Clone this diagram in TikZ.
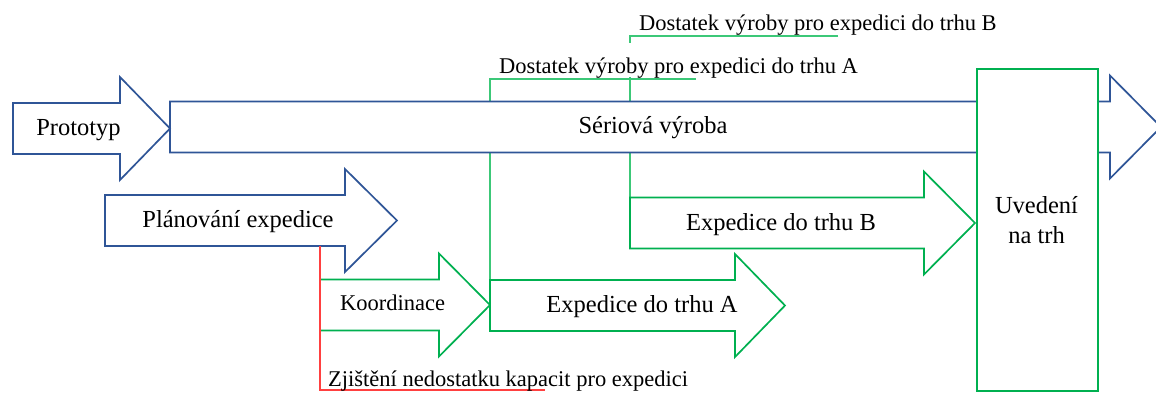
\documentclass[tikz,border=0pt]{standalone}
\usepackage{fontspec}
\setmainfont{Liberation Serif}
\definecolor{arrblue}{HTML}{2F5597}
\definecolor{arrgreen}{HTML}{00B050}
\definecolor{linkgreen}{HTML}{3CC878}
\definecolor{alertred}{HTML}{FF4040}

\pgfdeclarelayer{links}
\pgfsetlayers{links,main}

% Block arrow: style, tail x, head base x, tip x, centre y, name
\newcommand\blockarrow[6]{%
  \filldraw[#1] (#2,#5-25.5) -- (#3,#5-25.5) -- (#3,#5-51.5) -- (#4,#5)
    -- (#3,#5+51.5) -- (#3,#5+25.5) -- (#2,#5+25.5) -- cycle;
  \coordinate (#6-nw) at (#2,#5-25.5);
  \coordinate (#6-sw) at (#2,#5+25.5);
}

\tikzset{
  bluearrow/.style={draw=arrblue, fill=white, line width=1.7pt, line join=miter},
  greenarrow/.style={draw=arrgreen, fill=white, line width=1.7pt, line join=miter},
  link/.style={draw=linkgreen, line width=1.7pt},
  alert/.style={draw=alertred, line width=1.7pt},
  biglabel/.style={font=\fontsize{24.5}{30}\selectfont, inner sep=0pt, anchor=base},
  smalllabel/.style={font=\fontsize{22.5}{26}\selectfont, inner sep=0pt, anchor=base west},
}

\begin{document}
\begin{tikzpicture}[x=1pt, y=-1pt]
\useasboundingbox (0,0) rectangle (1156,392);
\clip (0,0) rectangle (1156,392);

% production line
\blockarrow{bluearrow}{170}{1110}{1161}{127}{ser}
\blockarrow{bluearrow}{13}{120}{170}{128.5}{proto}
\node[biglabel] (protolbl) at (78.5,135) {Prototyp};
\node[biglabel] (serlbl) at (653,133) {Sériová výroba};

% shipping planning
\blockarrow{bluearrow}{105}{345}{397}{220.5}{plan}
\node[biglabel] (planlbl) at (238,227) {Plánování expedice};

\blockarrow{greenarrow}{320}{439}{490}{305}{koord}
\node[font=\fontsize{22.5}{26}\selectfont, inner sep=0pt, anchor=base] (koordlbl) at (392.5,310) {Koordinace};

\blockarrow{greenarrow}{490}{735}{785}{305.5}{expA}
\node[biglabel] (expAlbl) at (642,312) {Expedice do trhu A};

\blockarrow{greenarrow}{630}{924}{975}{223}{expB}
\node[biglabel] (expBlbl) at (781,230) {Expedice do trhu B};

% market launch
\node[draw=arrgreen, fill=white, line width=1.7pt, minimum width=121pt,
      minimum height=322pt, anchor=north west, inner sep=0pt] (market) at (976,68) {};
\node[font=\fontsize{24.5}{30}\selectfont, align=center, inner sep=0pt] (marketlbl)
      at (1036.5,220.5) {Uvedení\\na trh};

% capacity shortage
\coordinate (rTop) at (320,246);
\coordinate (rEnd) at (545,390);
\draw[alert] (rTop) |- (rEnd);
\node[smalllabel] (shortlbl) at (328,386) {Zjištění nedostatku kapacit pro expedici};

% production sufficiency callouts
\coordinate (bEnd) at (838,36);
\coordinate (aEnd) at (696,79);
\begin{pgfonlayer}{links}
  \draw[link] (bEnd) -| (expB-nw);
  \node[smalllabel, fill=white, text height=30pt, text depth=4pt] (lblA) at (499,73)
        {Dostatek výroby pro expedici do trhu A};
  \draw[link] (aEnd) -| (expA-nw);
\end{pgfonlayer}
\node[smalllabel] (lblB) at (639,30) {Dostatek výroby pro expedici do trhu B};
\end{tikzpicture}
\end{document}
